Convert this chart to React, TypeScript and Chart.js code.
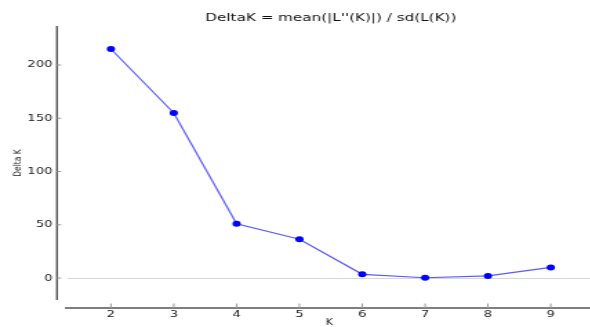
import React, { useEffect, useRef } from "react";
import { Chart, registerables } from "chart.js";

Chart.register(...registerables);

// Delta K statistic for each tested number of clusters K
const kValues = [2, 3, 4, 5, 6, 7, 8, 9];
const deltaK = [215, 155, 51, 36.5, 3.5, 0.3, 2, 10];

const xTicks = [2, 3, 4, 5, 6, 7, 8, 9];
const yTicks = [0, 50, 100, 150, 200];

const titleText = "DeltaK = mean(|L''(K)|) / sd(L(K))";
const xLabel = "K";
const yLabel = "Delta K";

// The figure is drawn narrow and widened with a horizontal stretch.
const STRETCH = 1.38;
const FONT = "'DejaVu Sans', sans-serif";

// Detached (offset) axis spines, inward tick marks and axis titles.
const offsetSpines = {
  id: "offsetSpines",
  afterDraw(chart: any) {
    const { ctx, chartArea, scales } = chart;
    const { left, right, top, bottom } = chartArea;
    const x = scales.x;
    const y = scales.y;
    ctx.save();

    const sx = left - 7.2;
    const sy = bottom + 8;

    ctx.strokeStyle = "#555";
    ctx.lineWidth = 1.4;
    ctx.beginPath();
    ctx.moveTo(sx, top);
    ctx.lineTo(sx, bottom);
    ctx.stroke();

    ctx.lineWidth = 1.6;
    ctx.beginPath();
    ctx.moveTo(left - 1.5, sy);
    ctx.lineTo(right, sy);
    ctx.stroke();

    ctx.strokeStyle = "#999";
    ctx.lineWidth = 1;
    y.ticks.forEach((t: any) => {
      const py = y.getPixelForValue(t.value);
      ctx.beginPath();
      ctx.moveTo(sx, py);
      ctx.lineTo(sx + 3, py);
      ctx.stroke();
    });
    x.ticks.forEach((t: any) => {
      const px = x.getPixelForValue(t.value);
      ctx.beginPath();
      ctx.moveTo(px, sy);
      ctx.lineTo(px, sy - 4.5);
      ctx.stroke();
    });

    ctx.fillStyle = "#222";
    ctx.textAlign = "center";
    ctx.textBaseline = "middle";

    ctx.font = `7.5px ${FONT}`;
    ctx.save();
    ctx.translate(13, (top + bottom) / 2);
    ctx.rotate(-Math.PI / 2);
    ctx.fillText(yLabel, 0, 0);
    ctx.restore();

    ctx.font = `8px ${FONT}`;
    ctx.fillText(xLabel, 238.5, 322.5);

    ctx.restore();
  },
};

export default function App() {
  const canvasRef = useRef<HTMLCanvasElement | null>(null);

  useEffect(() => {
    const canvas = canvasRef.current;
    if (!canvas) return;

    const points = kValues.map((k, i) => ({ x: k, y: deltaK[i] }));

    const chart = new Chart(canvas, {
      type: "scatter",
      data: {
        datasets: [
          {
            data: points,
            showLine: true,
            borderColor: "#5a5aff",
            borderWidth: 1.2,
            backgroundColor: "#0000ff",
            pointBackgroundColor: "#0000ff",
            pointBorderWidth: 0,
            pointRadius: 3,
            pointHoverRadius: 3,
          },
        ],
      },
      options: {
        responsive: false,
        animation: false,
        devicePixelRatio: 1,
        layout: { padding: { left: 0, right: 0, top: 0, bottom: 0 } },
        plugins: {
          legend: { display: false },
          tooltip: { enabled: false },
          title: {
            display: true,
            text: titleText,
            fullSize: false,
            color: "#111",
            font: { family: FONT, size: 11, weight: "normal", lineHeight: 1.2 },
            padding: { top: 11.4, bottom: 1.4 },
          },
        },
        scales: {
          x: {
            type: "linear",
            min: 1.3,
            max: 9.7,
            afterFit: (s: any) => {
              s.height = 27;
            },
            afterBuildTicks: (s: any) => {
              s.ticks = xTicks.map((v) => ({ value: v }));
            },
            grid: { display: false, drawTicks: false },
            border: { display: false },
            ticks: {
              color: "#222",
              padding: 9,
              font: { family: FONT, size: 9.5 },
              maxRotation: 0,
              callback: (v: any) => String(v),
            },
          },
          y: {
            type: "linear",
            min: -20.6,
            max: 236.6,
            afterFit: (s: any) => {
              s.width = 48.5;
            },
            afterBuildTicks: (s: any) => {
              s.ticks = yTicks.map((v) => ({ value: v }));
            },
            grid: {
              drawTicks: false,
              lineWidth: 1,
              color: (c: any) =>
                c.tick && c.tick.value === 0 ? "#d6d6d6" : "rgba(0,0,0,0)",
            },
            border: { display: false },
            ticks: {
              color: "#222",
              padding: 10.5,
              font: { family: FONT, size: 9.5 },
              callback: (v: any) => String(v),
            },
          },
        },
      },
      plugins: [offsetSpines],
    });

    return () => chart.destroy();
  }, []);

  return (
    <div
      style={{
        position: "absolute",
        left: 0,
        top: 0,
        width: 590,
        height: 327,
        overflow: "hidden",
        background: "#fff",
      }}
    >
      <div style={{ transform: `scaleX(${STRETCH})`, transformOrigin: "0 0", width: 434, height: 327 }}>
        <canvas ref={canvasRef} width={434} height={327} style={{ display: "block" }} />
      </div>
    </div>
  );
}
